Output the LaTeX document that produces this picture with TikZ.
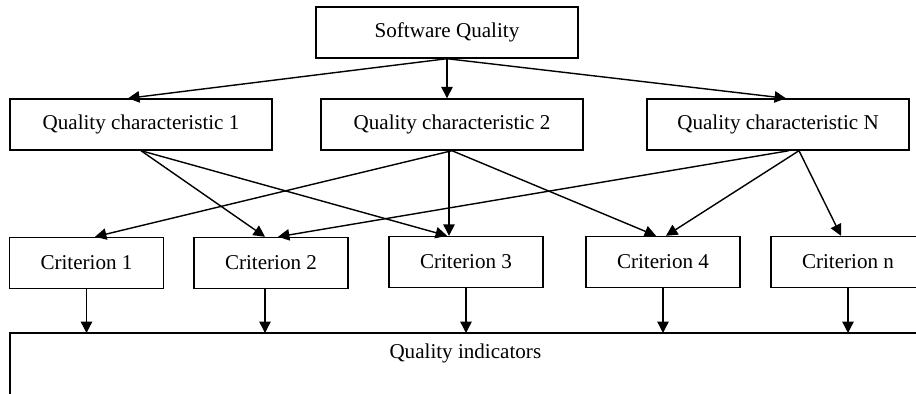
\documentclass[tikz,border=0pt]{standalone}
\usepackage{fontspec}
\setmainfont{Liberation Serif}
\usetikzlibrary{arrows.meta}
\tikzset{box/.style={draw,line width=0.8pt,minimum height=1.02cm,inner sep=0pt,
           font=\fontsize{12}{14}\selectfont},
         wbox/.style={box,minimum width=5.24cm},
         cbox/.style={box,minimum width=3.08cm},
         arr/.style={line width=0.8pt,-{Triangle[length=6.5pt,width=6.5pt]}},
         ln/.style={line width=0.8pt}
        }

\begin{document}
\begin{tikzpicture}
\useasboundingbox (0,0) rectangle (18.32,7.88);
% top levels
\node[wbox] (sq) at (8.94,7.23) {Software Quality};
\node[wbox] (q1) at (2.82,5.39) {Quality characteristic 1};
\node[wbox] (q2) at (9.04,5.39) {Quality characteristic 2};
\node[wbox] (qn) at (15.56,5.39) {Quality characteristic N};
% criteria
\node[cbox] (c1) at (1.73,2.62) {Criterion 1};
\node[cbox] (c2) at (5.42,2.62) {Criterion 2};
\node[cbox] (c3) at (9.32,2.64) {Criterion 3};
\node[cbox] (c4) at (13.26,2.64) {Criterion 4};
\node[cbox] (cn) at (16.96,2.64) {Criterion n};
% indicators
\node[font=\fontsize{12}{14}\selectfont,minimum width=18.2cm,minimum height=0.8cm,
      anchor=north west] (qi) at (0.2,1.22) {Quality indicators};
\coordinate (qiend) at (0.2,0);
\draw[ln] (qi.north east) -- (qi.north west) -- (qiend);

\draw[arr] (sq.south) -- ([xshift=-0.26cm]q1.north);
\draw[arr] (sq.south) -- (sq.south |- q2.north);
\draw[arr] (sq.south) -- ([xshift=0.16cm]qn.north);

\draw[arr] (q1.south) -- ([xshift=-0.12cm]c2.north);
\draw[arr] (q1.south) -- ([xshift=-0.38cm]c3.north);
\draw[arr] (q2.south) -- ([xshift=0.17cm]c1.north);
\draw[arr] ([xshift=-0.06cm]q2.south) -- ([xshift=-0.06cm]q2.south |- c3.north);
\draw[arr] (q2.south) -- ([xshift=-0.14cm]c4.north);
\draw[arr] ([xshift=0.22cm]qn.south) -- ([xshift=0.14cm]c2.north);
\draw[arr] ([xshift=0.42cm]qn.south) -- ([xshift=0.06cm]c4.north);
\draw[arr] ([xshift=0.42cm]qn.south) -- ([xshift=-0.14cm]cn.north);

\foreach \c in {c1,c3,c4,cn}
  \draw[arr] (\c.south) -- (\c.south |- qi.north);
\draw[arr] ([xshift=-0.12cm]c2.south) -- ([xshift=-0.12cm]c2.south |- qi.north);
\end{tikzpicture}
\end{document}
